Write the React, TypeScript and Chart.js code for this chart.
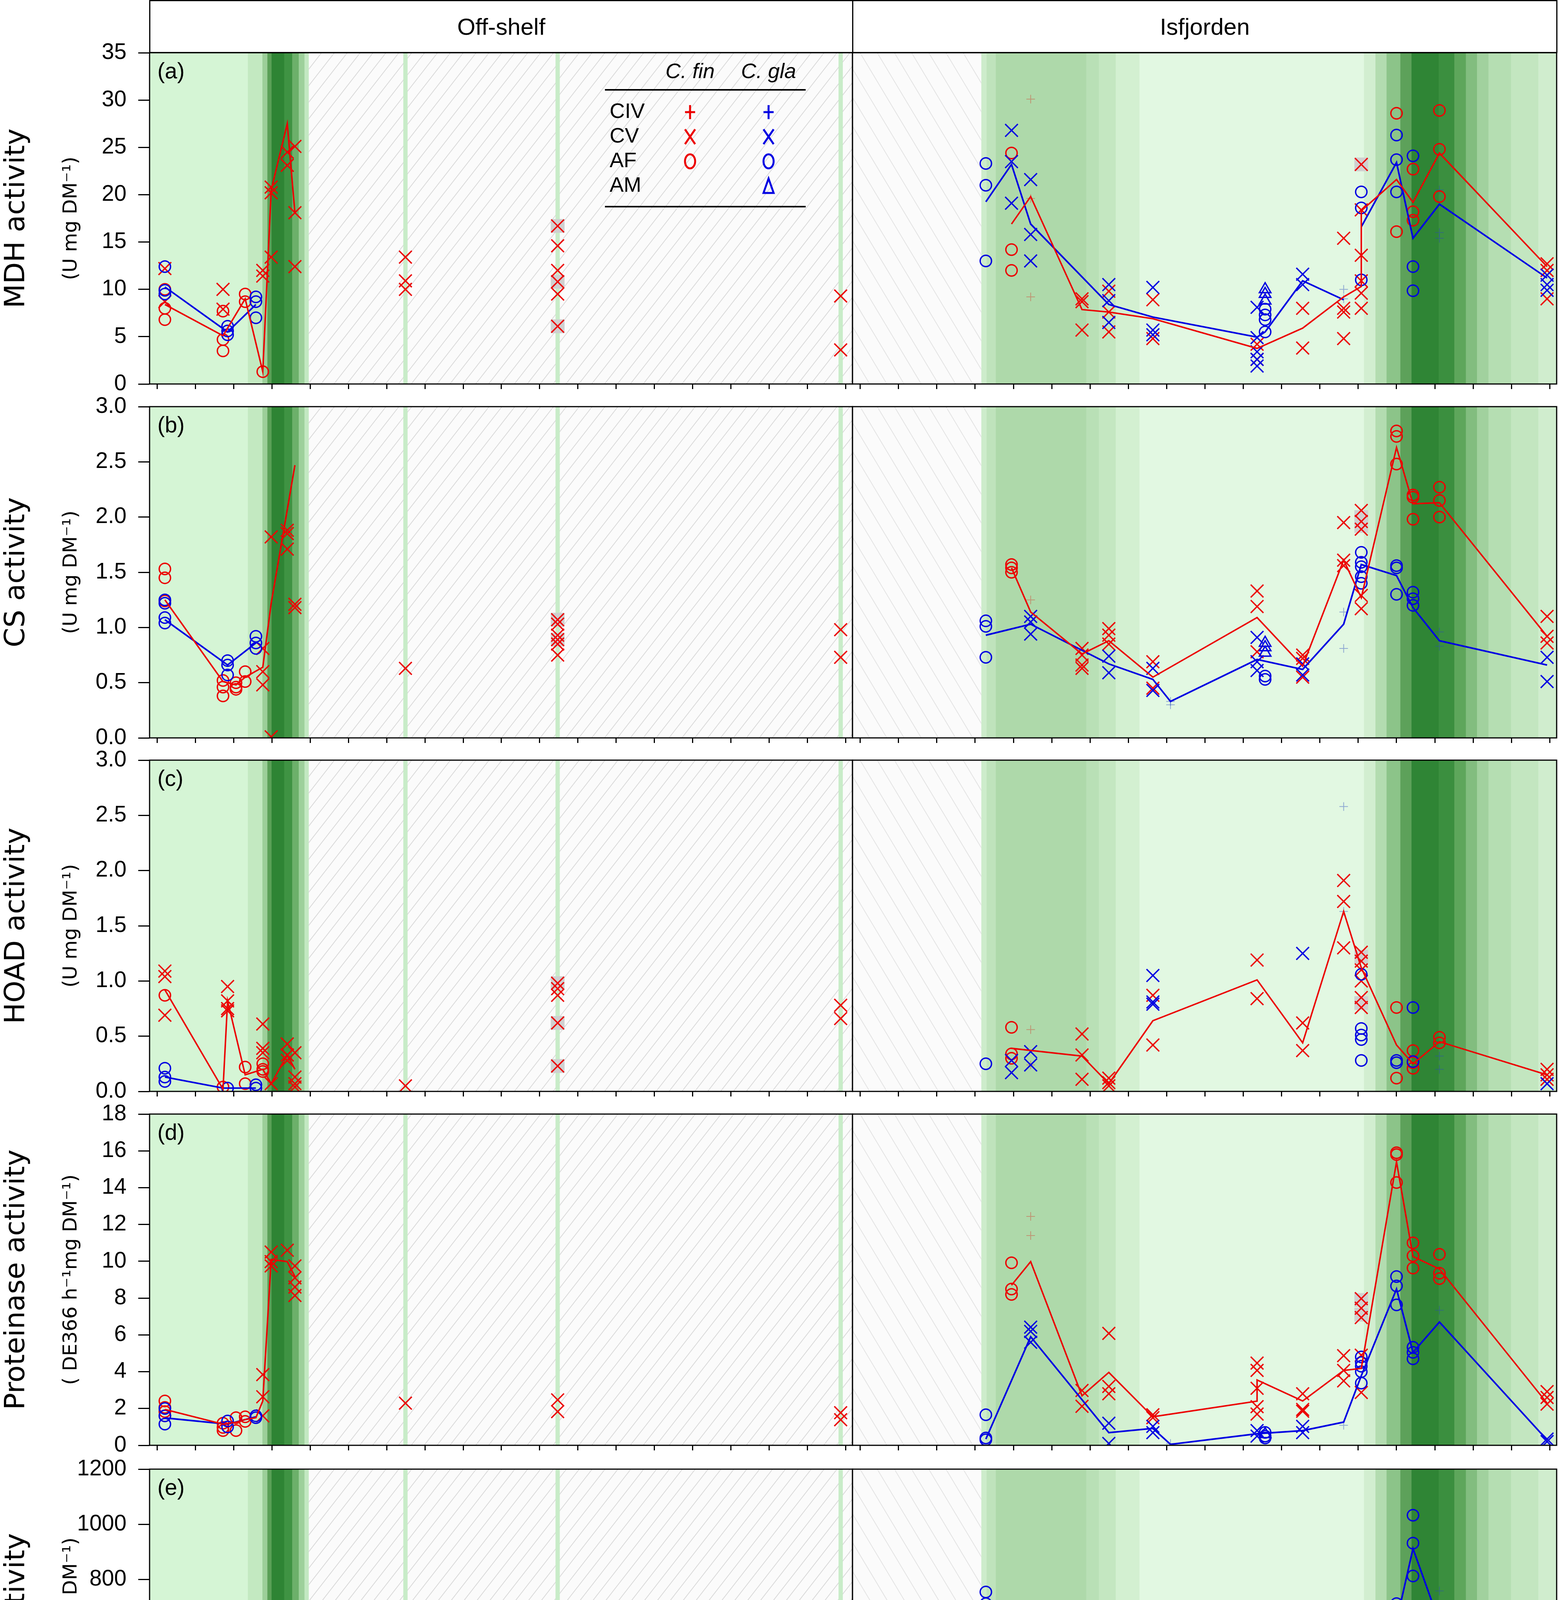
import { useEffect, useRef } from 'react'
import { Chart, registerables } from 'chart.js'

Chart.register(...registerables)

type Pt = [number, number | null]

// x is in months after 1 March of the first sampling year
const MONTHS = ['M', 'A', 'M', 'J', 'J', 'A', 'S', 'O', 'N', 'D', 'J', 'F', 'M', 'A', 'M', 'J', 'J', 'A']
const X_MIN = -0.2
const X_MAX = 18.18
const X_TICKS = Array.from({ length: MONTHS.length * 2 + 1 }, (_, i) => i / 2)

// off-shelf sampling dates
const O1 = 0.2, O2 = 1.72, O2b = 1.84, O2c = 2.06, O3 = 2.3, O3b = 2.58, O4 = 2.76
const O5 = 2.98, O6 = 3.4, O7 = 3.6, O8 = 6.49, O9 = 10.47, O10 = 17.87
// Isfjorden sampling dates
const I1 = 3.28, I2 = 3.95, I3 = 4.45, I4 = 5.79, I5 = 6.49, I6 = 7.64, I6b = 8.1
const I7 = 10.36, I7b = 10.57, I8 = 11.55, I9 = 12.62, I10 = 13.08, I11 = 14.0
const I12 = 14.43, I13 = 15.12, I14 = 17.93

// background: [from, to, colour]
const OFF_BANDS: [number, number, string][] = [
  [X_MIN, 2.37, '#d5f5d5'], [2.37, 2.75, '#c3e9c1'], [2.75, 2.88, '#9ccf99'],
  [2.88, 2.99, '#5aa057'], [2.99, 3.32, '#2e8434'], [3.32, 3.53, '#3f9343'],
  [3.53, 3.7, '#6cb06a'], [3.7, 3.85, '#9dd09b'], [3.85, 3.96, '#c3e8c2'],
]
const OFF_HATCH = [3.96, X_MAX]
const OFF_SAMPLE_LINES = [O8, O9, O10]
const ISF_BANDS: [number, number, string][] = [
  [3.16, 3.3, '#cdeccb'], [3.3, 3.54, '#bfe3bc'], [3.54, 5.9, '#aed9aa'],
  [5.9, 6.23, '#b9e0b6'], [6.23, 6.67, '#c4e7c1'], [6.67, 7.29, '#d3f0d1'],
  [7.29, 13.15, '#e2f8e2'], [13.15, 13.45, '#d2eed0'], [13.45, 13.74, '#b3dcb0'],
  [13.74, 14.1, '#8cc489'], [14.1, 14.39, '#5da15a'], [14.39, 15.1, '#2f8535'],
  [15.1, 15.51, '#3b8f3f'], [15.51, 15.81, '#5ea65b'], [15.81, 16.1, '#82bd7f'],
  [16.1, 16.4, '#a1d19e'], [16.4, 16.99, '#b5deb2'], [16.99, 17.7, '#c3e6c0'],
  [17.7, X_MAX, '#d0edce'],
]
const ISF_HATCH = [X_MIN, 3.16]

// (a) MDH
const mdhOffFinCV: Pt[] = [[O1, 12.2], [O1, 8.7], [O2, 10.0], [O2, 7.9], [O4, 12.0], [O4, 11.4], [O5, 20.8], [O5, 20.2], [O5, 13.4], [O6, 24.5], [O6, 23.1], [O7, 25.1], [O7, 18.1], [O7, 12.4], [O8, 13.4], [O8, 10.9], [O8, 10.0], [O9, 16.7], [O9, 14.6], [O9, 12.0], [O9, 10.8], [O9, 9.5], [O9, 6.1], [O10, 9.3], [O10, 3.6]]
const mdhOffFinAF: Pt[] = [[O1, 10.0], [O1, 8.0], [O1, 6.8], [O2, 7.7], [O2, 4.7], [O2, 3.5], [O3, 9.5], [O3, 8.7], [O4, 1.3]]
const mdhOffGlaAF: Pt[] = [[O1, 12.4], [O1, 9.9], [O1, 9.5], [O2b, 6.1], [O2b, 5.6], [O2b, 5.2], [O3b, 9.2], [O3b, 8.7], [O3b, 7.0]]
const mdhOffFinMean: Pt[] = [[O1, 8.4], [O2, 5.1], [O3, 9.0], [O4, 1.3], [O5, 20.5], [O6, 27.5], [O7, 18.1]]
const mdhOffGlaMean: Pt[] = [[O1, 10.25], [O2b, 5.5], [O3b, 8.4]]
const mdhOffMarked: Pt[] = [[O9, 16.7], [O9, 10.8], [O9, 6.1]]
const mdhIsfFinCIV: Pt[] = [[I3, 30.1], [I3, 19.6], [I3, 9.2]]
const mdhIsfFinCV: Pt[] = [[I4, 9.0], [I4, 8.7], [I4, 5.7], [I5, 9.8], [I5, 7.6], [I5, 5.5], [I6, 8.9], [I6, 4.8], [I7, 4.2], [I7, 2.6], [I8, 8.0], [I8, 3.8], [I9, 15.4], [I9, 8.0], [I9, 7.6], [I9, 4.8], [I10, 23.2], [I10, 18.4], [I10, 13.6], [I10, 10.9], [I10, 9.6], [I10, 8.0], [I14, 12.7], [I14, 12.0], [I14, 9.0]]
const mdhIsfFinAF: Pt[] = [[I2, 24.4], [I2, 14.2], [I2, 12.0], [I11, 28.6], [I11, 16.1], [I12, 22.7], [I12, 18.2], [I12, 17.3], [I13, 28.9], [I13, 24.8], [I13, 19.8]]
const mdhIsfGlaCIV: Pt[] = [[I9, 10.0], [I9, 9.0], [I13, 20.5], [I13, 16.0], [I13, 15.4]]
const mdhIsfGlaCV: Pt[] = [[I2, 26.8], [I2, 23.5], [I2, 19.1], [I3, 21.6], [I3, 15.8], [I3, 13.0], [I5, 10.5], [I5, 8.8], [I5, 6.5], [I6, 10.2], [I6, 5.7], [I6, 5.2], [I7, 8.1], [I7, 4.9], [I7, 3.4], [I7, 2.6], [I7, 1.9], [I8, 11.6], [I8, 10.5], [I14, 11.5], [I14, 10.5], [I14, 9.9]]
const mdhIsfGlaAF: Pt[] = [[I1, 23.3], [I1, 21.0], [I1, 13.0], [I7b, 7.9], [I7b, 7.3], [I7b, 6.8], [I7b, 5.5], [I10, 20.3], [I10, 18.6], [I10, 11.0], [I11, 26.3], [I11, 23.7], [I11, 20.3], [I12, 24.1], [I12, 12.4], [I12, 9.85]]
const mdhIsfGlaAM: Pt[] = [[I7b, 10.0], [I7b, 9.5], [I7b, 8.8]]
const mdhIsfFinMean: Pt[] = [[I2, 16.9], [I3, 19.8], [I4, 7.86], [I5, 7.6], [I6, 6.9], [I7, 3.76], [I8, 5.9], [I9, 9.2], [I10, 10.3], [I10, 18.3], [I11, 21.6], [I12, 19.2], [I13, 24.4], [I14, 12.4]]
const mdhIsfGlaMean: Pt[] = [[I1, 19.25], [I2, 23.2], [I3, 16.9], [I5, 8.4], [I6, 7.07], [I7, 4.95], [I7b, 5.5], [I8, 10.9], [I9, 8.9], [I9, null], [I10, 16.6], [I11, 23.4], [I12, 15.4], [I13, 19.0], [I14, 11.2]]
const mdhIsfMarked: Pt[] = [[I10, 23.2]]

// (b) CS
const csOffFinCV: Pt[] = [[O4, 0.81], [O4, 0.6], [O4, 0.48], [O5, 1.82], [O5, 0.01], [O6, 1.88], [O6, 1.85], [O6, 1.71], [O7, 1.21], [O7, 1.18], [O8, 0.63], [O9, 1.07], [O9, 1.03], [O9, 0.93], [O9, 0.89], [O9, 0.85], [O9, 0.75], [O10, 0.98], [O10, 0.73]]
const csOffFinAF: Pt[] = [[O1, 1.53], [O1, 1.45], [O1, 1.24], [O2, 0.52], [O2, 0.46], [O2, 0.38], [O2c, 0.5], [O2c, 0.46], [O2c, 0.44], [O3, 0.6], [O3, 0.51]]
const csOffGlaAF: Pt[] = [[O1, 1.25], [O1, 1.22], [O1, 1.09], [O1, 1.04], [O2b, 0.7], [O2b, 0.66], [O2b, 0.57], [O3b, 0.92], [O3b, 0.86], [O3b, 0.81]]
const csOffFinMean: Pt[] = [[O1, 1.25], [O2, 0.51], [O2c, 0.48], [O3, 0.55], [O4, 0.64], [O5, 1.22], [O7, 2.47]]
const csOffGlaMean: Pt[] = [[O1, 1.07], [O2b, 0.66], [O3b, 0.86]]
const csOffMarked: Pt[] = [[O9, 1.07], [O9, 0.89]]
const csIsfFinCIV: Pt[] = [[I3, 1.25]]
const csIsfFinCV: Pt[] = [[I4, 0.81], [I4, 0.75], [I4, 0.66], [I4, 0.63], [I5, 0.99], [I5, 0.93], [I5, 0.85], [I6, 0.69], [I6, 0.45], [I7, 1.33], [I7, 1.19], [I7, 0.78], [I8, 0.75], [I8, 0.72], [I8, 0.55], [I9, 1.95], [I9, 1.61], [I9, 1.56], [I10, 2.06], [I10, 1.96], [I10, 1.89], [I10, 1.29], [I10, 1.17], [I14, 1.1], [I14, 0.92], [I14, 0.86]]
const csIsfFinAF: Pt[] = [[I2, 1.57], [I2, 1.54], [I2, 1.5], [I11, 2.78], [I11, 2.73], [I11, 2.48], [I12, 2.2], [I12, 2.18], [I12, 1.98], [I13, 2.27], [I13, 2.15], [I13, 2.0]]
const csIsfGlaCIV: Pt[] = [[I6b, 0.33], [I6b, 0.3], [I9, 1.14], [I9, 0.81], [I13, 0.96], [I13, 0.83]]
const csIsfGlaCV: Pt[] = [[I3, 1.1], [I3, 1.05], [I3, 0.94], [I5, 0.74], [I5, 0.59], [I6, 0.63], [I6, 0.43], [I7, 0.91], [I7, 0.69], [I7, 0.61], [I8, 0.67], [I8, 0.57], [I14, 0.73], [I14, 0.51]]
const csIsfGlaAF: Pt[] = [[I1, 1.06], [I1, 1.01], [I1, 0.73], [I7b, 0.56], [I7b, 0.53], [I10, 1.68], [I10, 1.59], [I10, 1.55], [I10, 1.46], [I10, 1.4], [I11, 1.56], [I11, 1.54], [I11, 1.3], [I12, 1.32], [I12, 1.26], [I12, 1.2]]
const csIsfGlaAM: Pt[] = [[I7b, 0.86], [I7b, 0.82], [I7b, 0.77]]
const csIsfFinMean: Pt[] = [[I2, 1.54], [I3, 1.14], [I4, 0.76], [I5, 0.88], [I6, 0.55], [I7, 1.09], [I8, 0.65], [I9, 1.61], [I10, 1.27], [I11, 2.63], [I12, 2.12], [I13, 2.13], [I14, 0.92]]
const csIsfGlaMean: Pt[] = [[I1, 0.93], [I3, 1.03], [I5, 0.67], [I6, 0.53], [I6b, 0.33], [I7, 0.71], [I8, 0.62], [I9, 1.03], [I10, 1.57], [I11, 1.47], [I12, 1.18], [I13, 0.88], [I14, 0.66]]
const csIsfMarked: Pt[] = [[I10, 2.0], [I10, 1.92]]

// (c) HOAD
const hoadOffFinCV: Pt[] = [[O1, 1.09], [O1, 1.04], [O1, 0.69], [O2b, 0.95], [O2b, 0.82], [O2b, 0.75], [O2b, 0.73], [O4, 0.61], [O4, 0.39], [O4, 0.35], [O5, 0.07], [O6, 0.43], [O6, 0.33], [O6, 0.28], [O7, 0.35], [O7, 0.13], [O7, 0.07], [O7, 0.04], [O8, 0.05], [O9, 0.98], [O9, 0.93], [O9, 0.87], [O9, 0.62], [O9, 0.23], [O10, 0.78], [O10, 0.66]]
const hoadOffFinAF: Pt[] = [[O1, 0.87], [O2, 0.04], [O3, 0.22], [O3, 0.07], [O4, 0.25], [O4, 0.2], [O4, 0.18]]
const hoadOffGlaAF: Pt[] = [[O1, 0.21], [O1, 0.13], [O1, 0.09], [O2b, 0.03], [O3b, 0.06], [O3b, 0.03]]
const hoadOffFinMean: Pt[] = [[O1, 0.92], [O2, 0.02], [O2b, 0.82], [O3, 0.15], [O4, 0.2], [O5, 0.07], [O6, 0.33], [O7, 0.2]]
const hoadOffGlaMean: Pt[] = [[O1, 0.13], [O2, 0.03], [O3b, 0.03]]
const hoadOffMarked: Pt[] = [[O9, 0.98], [O9, 0.62], [O9, 0.23]]
const hoadIsfFinCIV: Pt[] = [[I3, 0.56], [I3, 0.24]]
const hoadIsfFinCV: Pt[] = [[I4, 0.52], [I4, 0.33], [I4, 0.11], [I5, 0.12], [I5, 0.08], [I5, 0.05], [I6, 0.87], [I6, 0.42], [I7, 1.19], [I7, 0.84], [I8, 0.62], [I8, 0.37], [I9, 1.91], [I9, 1.72], [I9, 1.3], [I10, 1.26], [I10, 1.18], [I10, 1.1], [I10, 1.0], [I10, 0.85], [I10, 0.76], [I14, 0.2], [I14, 0.15], [I14, 0.11]]
const hoadIsfFinAF: Pt[] = [[I2, 0.58], [I2, 0.34], [I2, 0.3], [I11, 0.76], [I11, 0.12], [I12, 0.37], [I12, 0.26], [I12, 0.21], [I13, 0.49], [I13, 0.44]]
const hoadIsfGlaCIV: Pt[] = [[I9, 2.58], [I9, 1.63], [I13, 0.32], [I13, 0.2]]
const hoadIsfGlaCV: Pt[] = [[I2, 0.28], [I2, 0.17], [I3, 0.36], [I3, 0.24], [I6, 1.05], [I6, 0.81], [I6, 0.79], [I8, 1.25], [I14, 0.07]]
const hoadIsfGlaAF: Pt[] = [[I1, 0.25], [I10, 1.06], [I10, 0.57], [I10, 0.51], [I10, 0.47], [I10, 0.28], [I11, 0.28], [I11, 0.26], [I12, 0.76], [I12, 0.27]]
const hoadIsfFinMean: Pt[] = [[I2, 0.39], [I4, 0.32], [I5, 0.07], [I6, 0.64], [I7, 1.01], [I8, 0.44], [I9, 1.63], [I10, 1.12], [I11, 0.42], [I12, 0.25], [I13, 0.45], [I14, 0.15]]
const hoadIsfMarked: Pt[] = [[I10, 1.22], [I10, 0.8]]

// (d) proteinase
const protOffFinCV: Pt[] = [[O4, 3.84], [O4, 2.64], [O4, 1.6], [O5, 10.5], [O5, 9.98], [O5, 9.75], [O6, 10.6], [O7, 9.75], [O7, 9.1], [O7, 8.6], [O7, 8.14], [O8, 2.29], [O9, 2.47], [O9, 1.83], [O10, 1.77], [O10, 1.39]]
const protOffFinAF: Pt[] = [[O1, 2.41], [O1, 2.06], [O1, 1.83], [O1, 1.6], [O2, 1.2], [O2, 0.97], [O2, 0.8], [O2c, 1.5], [O2c, 0.8], [O3, 1.55], [O3, 1.3]]
const protOffGlaAF: Pt[] = [[O1, 2.0], [O1, 1.6], [O1, 1.15], [O2b, 1.32], [O2b, 1.0], [O3b, 1.6], [O3b, 1.5]]
const protOffFinMean: Pt[] = [[O1, 1.95], [O2, 1.15], [O2c, 1.25], [O3, 1.4], [O3b, 1.5], [O4, 2.41], [O5, 10.1], [O6, 9.98], [O7, 9.17]]
const protOffGlaMean: Pt[] = [[O1, 1.49], [O2b, 1.15], [O3b, 1.55]]
const protIsfFinCIV: Pt[] = [[I3, 12.44], [I3, 11.4]]
const protIsfFinCV: Pt[] = [[I4, 2.98], [I4, 2.12], [I5, 6.08], [I5, 3.2], [I5, 2.8], [I6, 1.66], [I6, 1.5], [I7, 4.47], [I7, 4.07], [I7, 3.1], [I7, 2.1], [I7, 1.7], [I8, 2.8], [I8, 1.95], [I8, 1.85], [I9, 4.87], [I9, 4.07], [I9, 3.5], [I10, 7.97], [I10, 7.45], [I10, 6.94], [I10, 4.9], [I10, 2.87], [I14, 2.92], [I14, 2.6], [I14, 2.24]]
const protIsfFinAF: Pt[] = [[I2, 9.92], [I2, 8.49], [I2, 8.2], [I11, 15.9], [I11, 15.8], [I11, 14.28], [I12, 11.0], [I12, 10.3], [I12, 9.63], [I13, 10.38], [I13, 9.35], [I13, 9.06]]
const protIsfGlaCIV: Pt[] = [[I6b, 0.1], [I9, 1.09], [I13, 7.34], [I13, 6.5]]
const protIsfGlaCV: Pt[] = [[I3, 6.42], [I3, 6.19], [I3, 5.6], [I5, 1.2], [I5, 0.1], [I6, 1.03], [I6, 0.69], [I7, 0.8], [I7, 0.5], [I8, 1.03], [I8, 0.69], [I14, 0.34], [I14, 0.2]]
const protIsfGlaAF: Pt[] = [[I1, 1.66], [I1, 0.4], [I1, 0.3], [I7b, 0.7], [I7b, 0.5], [I7b, 0.4], [I10, 4.8], [I10, 4.5], [I10, 4.3], [I10, 4.0], [I10, 3.38], [I11, 9.17], [I11, 8.66], [I11, 7.63], [I12, 5.33], [I12, 5.05], [I12, 4.7]]
const protIsfGlaAM: Pt[] = [[I7b, 0.6]]
const protIsfFinMean: Pt[] = [[I2, 8.7], [I3, 9.98], [I4, 2.69], [I5, 3.96], [I6, 1.55], [I7, 2.4], [I7, 3.55], [I8, 2.41], [I9, 4.07], [I10, 4.18], [I11, 15.4], [I12, 10.26], [I13, 9.58], [I14, 2.29]]
const protIsfGlaMean: Pt[] = [[I1, 0.34], [I3, 5.9], [I5, 0.69], [I6, 0.92], [I6b, 0.05], [I7, 0.63], [I8, 0.8], [I9, 1.26], [I10, 3.78], [I11, 8.49], [I12, 5.05], [I13, 6.7], [I14, 0.29]]
const protIsfMarked: Pt[] = [[I10, 7.9], [I10, 7.1]]

// (e) lipase
const lipOffFinCV: Pt[] = [[O4, 345], [O4, 111], [O4, 88], [O5, 138], [O5, 127], [O6, 326], [O6, 311], [O6, 295], [O7, 192], [O7, 157], [O7, 150], [O8, 192], [O9, 58], [O9, 45], [O9, 35], [O9, 19], [O10, 119], [O10, 93]]
const lipOffFinAF: Pt[] = [[O1, 207], [O1, 196], [O1, 184], [O1, 50], [O2, 249], [O2, 180], [O2c, 345], [O2c, 180], [O2c, 253], [O3, 280], [O3, 257]]
const lipOffGlaAF: Pt[] = [[O1, 161], [O1, 130], [O1, 119], [O2b, 111], [O2b, 100], [O3b, 153], [O3b, 123], [O3b, 104]]
const lipOffFinMean: Pt[] = [[O1, 53], [O1, 189], [O2, 203], [O2c, 260], [O3, 257], [O5, 134], [O6, 307], [O7, 172]]
const lipOffGlaMean: Pt[] = [[O1, 130], [O2b, 111], [O3b, 123]]
const lipOffMarked: Pt[] = [[O9, 30]]
const lipIsfFinCIV: Pt[] = [[I3, 265], [I3, 200], [I3, 161]]
const lipIsfFinCV: Pt[] = [[I4, 69], [I4, 54], [I5, 230], [I5, 203], [I5, 172], [I6, 35], [I6, 15], [I7, 134], [I7, 110], [I7, 50], [I7, 20], [I8, 27], [I9, 138], [I9, 119], [I10, 115], [I10, 96], [I10, 80], [I14, 69]]
const lipIsfFinAF: Pt[] = [[I2, 272], [I2, 249], [I2, 240], [I11, 268], [I11, 196], [I11, 185], [I12, 303], [I12, 290], [I12, 245], [I13, 207], [I13, 190], [I13, 180]]
const lipIsfGlaCIV: Pt[] = [[I6b, 65], [I9, 31], [I13, 759], [I13, 583]]
const lipIsfGlaCV: Pt[] = [[I3, 663], [I3, 648], [I3, 587], [I5, 272], [I5, 249], [I6, 226], [I6, 207], [I6, 157], [I6, 134], [I7, 96], [I7, 69], [I8, 61], [I14, 69], [I14, 55], [I14, 40]]
const lipIsfGlaAF: Pt[] = [[I1, 755], [I1, 713], [I1, 556], [I7b, 88], [I7b, 75], [I7b, 55], [I10, 219], [I10, 210], [I10, 180], [I10, 160], [I10, 140], [I11, 713], [I11, 675], [I11, 552], [I12, 1033], [I12, 932], [I12, 813]]
const lipIsfFinMean: Pt[] = [[I2, 249], [I3, 211], [I4, 65], [I5, 200], [I6, 35], [I7, 84], [I7, 35], [I8, 27], [I9, 127], [I10, 111], [I11, 211], [I12, 272], [I13, 188], [I14, 65]]
const lipIsfGlaMean: Pt[] = [[I1, 675], [I3, 633], [I5, 238], [I6, 196], [I6b, 61], [I7, 69], [I7b, 75], [I8, 57], [I9, 31], [I10, 203], [I11, 648], [I12, 912], [I13, 644], [I14, 57]]

type Group = {
  finCIV?: Pt[]; finCV?: Pt[]; finAF?: Pt[]
  glaCIV?: Pt[]; glaCV?: Pt[]; glaAF?: Pt[]; glaAM?: Pt[]
  finMean?: Pt[]; glaMean?: Pt[]; marked?: Pt[]
}

const ROWS = [
  {
    letter: '(a)', title: 'MDH activity', unit: '(U mg DM⁻¹)', max: 35, step: 5, dec: 0,
    off: { finCV: mdhOffFinCV, finAF: mdhOffFinAF, glaAF: mdhOffGlaAF, finMean: mdhOffFinMean, glaMean: mdhOffGlaMean, marked: mdhOffMarked },
    isf: { finCIV: mdhIsfFinCIV, finCV: mdhIsfFinCV, finAF: mdhIsfFinAF, glaCIV: mdhIsfGlaCIV, glaCV: mdhIsfGlaCV, glaAF: mdhIsfGlaAF, glaAM: mdhIsfGlaAM, finMean: mdhIsfFinMean, glaMean: mdhIsfGlaMean, marked: mdhIsfMarked },
  },
  {
    letter: '(b)', title: 'CS activity', unit: '(U mg DM⁻¹)', max: 3, step: 0.5, dec: 1,
    off: { finCV: csOffFinCV, finAF: csOffFinAF, glaAF: csOffGlaAF, finMean: csOffFinMean, glaMean: csOffGlaMean, marked: csOffMarked },
    isf: { finCIV: csIsfFinCIV, finCV: csIsfFinCV, finAF: csIsfFinAF, glaCIV: csIsfGlaCIV, glaCV: csIsfGlaCV, glaAF: csIsfGlaAF, glaAM: csIsfGlaAM, finMean: csIsfFinMean, glaMean: csIsfGlaMean, marked: csIsfMarked },
  },
  {
    letter: '(c)', title: 'HOAD activity', unit: '(U mg DM⁻¹)', max: 3, step: 0.5, dec: 1,
    off: { finCV: hoadOffFinCV, finAF: hoadOffFinAF, glaAF: hoadOffGlaAF, finMean: hoadOffFinMean, glaMean: hoadOffGlaMean, marked: hoadOffMarked },
    isf: { finCIV: hoadIsfFinCIV, finCV: hoadIsfFinCV, finAF: hoadIsfFinAF, glaCIV: hoadIsfGlaCIV, glaCV: hoadIsfGlaCV, glaAF: hoadIsfGlaAF, finMean: hoadIsfFinMean, marked: hoadIsfMarked },
  },
  {
    letter: '(d)', title: 'Proteinase activity', unit: '( DE366 h⁻¹mg DM⁻¹)', max: 18, step: 2, dec: 0,
    off: { finCV: protOffFinCV, finAF: protOffFinAF, glaAF: protOffGlaAF, finMean: protOffFinMean, glaMean: protOffGlaMean },
    isf: { finCIV: protIsfFinCIV, finCV: protIsfFinCV, finAF: protIsfFinAF, glaCIV: protIsfGlaCIV, glaCV: protIsfGlaCV, glaAF: protIsfGlaAF, glaAM: protIsfGlaAM, finMean: protIsfFinMean, glaMean: protIsfGlaMean, marked: protIsfMarked },
  },
  {
    letter: '(e)', title: 'Lipase activity', unit: '(nmol h⁻¹ mg DM⁻¹)', max: 1200, step: 200, dec: 0,
    off: { finCV: lipOffFinCV, finAF: lipOffFinAF, glaAF: lipOffGlaAF, finMean: lipOffFinMean, glaMean: lipOffGlaMean, marked: lipOffMarked },
    isf: { finCIV: lipIsfFinCIV, finCV: lipIsfFinCV, finAF: lipIsfFinAF, glaCIV: lipIsfGlaCIV, glaCV: lipIsfGlaCV, glaAF: lipIsfGlaAF, finMean: lipIsfFinMean, glaMean: lipIsfGlaMean },
  },
]

const RED = 'rgb(236,0,0)'
const BLUE = 'rgb(0,0,226)'
const RED_FAINT = 'rgba(205,80,60,0.5)'
const BLUE_FAINT = 'rgba(40,70,190,0.45)'
const NONE = 'rgba(0,0,0,0)'
const SANS = '"Liberation Sans", Arial, sans-serif'

const PLOT_TOPS = [135, 1041, 1946, 2852, 3761]
const PLOT_H = 848
const PAD_TOP = 40
const BOTTOM = 40
const BOTTOM_LAST = 80
const SPLIT = 2183

const xy = (pts: Pt[] = []) => pts.map(([x, y]) => ({ x, y }))

function buildDatasets(g: Group) {
  const pts = (data: Pt[] | undefined, style: string, r: number, color: string, w: number, fill = NONE) => ({
    data: xy(data), showLine: false, pointStyle: style, pointRadius: r,
    pointBorderColor: color, pointBackgroundColor: fill, pointBorderWidth: w,
    borderColor: color, backgroundColor: fill,
  })
  const mean = (data: Pt[] | undefined, color: string, w: number) => ({
    data: xy(data), showLine: true, borderColor: color, borderWidth: w,
    pointRadius: 0, spanGaps: false, fill: false,
  })
  return [
    mean(g.finMean, RED, 3.8),
    mean(g.glaMean, BLUE, 4.2),
    pts(g.glaAM, 'triangle', 17, BLUE, 3.5),
    pts(g.glaAF, 'circle', 14.5, BLUE, 3.5),
    pts(g.glaCV, 'crossRot', 23, BLUE, 3.5),
    pts(g.finAF, 'circle', 14.5, RED, 3.5),
    pts(g.finCV, 'crossRot', 23, RED, 3.5),
    pts(g.glaCIV, 'cross', 11, BLUE_FAINT, 2),
    pts(g.finCIV, 'cross', 11, RED_FAINT, 2),
    pts(g.marked, 'rect', 25, NONE, 0, '#d0d0d0'),
  ]
}

// keep the plot area exactly where the layout says
function noPadding(s: any) {
  s.paddingTop = 0
  s.paddingBottom = 0
  s.paddingLeft = 0
  s.paddingRight = 0
}

function drawHatch(ctx: any, ca: any, xa: number, xb: number, dir: number, gap: number, slope: number, color: string) {
  ctx.save()
  ctx.beginPath()
  ctx.rect(xa, ca.top, xb - xa, ca.height)
  ctx.clip()
  ctx.fillStyle = '#fbfbfb'
  ctx.fillRect(xa, ca.top, xb - xa, ca.height)
  ctx.strokeStyle = color
  ctx.lineWidth = 2
  const run = ca.height * slope
  ctx.beginPath()
  for (let s = xa - run - gap; s < xb + run + gap; s += gap) {
    if (dir > 0) { ctx.moveTo(s, ca.bottom); ctx.lineTo(s + run, ca.top) }
    else { ctx.moveTo(s, ca.top); ctx.lineTo(s + run, ca.bottom) }
  }
  ctx.stroke()
  ctx.restore()
}

function glyph(ctx: any, kind: string, x: number, y: number, color: string) {
  ctx.save()
  ctx.strokeStyle = color
  ctx.lineWidth = 5
  ctx.beginPath()
  if (kind === '+') { ctx.moveTo(x - 13, y); ctx.lineTo(x + 13, y); ctx.moveTo(x, y - 18); ctx.lineTo(x, y + 18) }
  if (kind === 'x') { ctx.moveTo(x - 13, y - 19); ctx.lineTo(x + 13, y + 19); ctx.moveTo(x + 13, y - 19); ctx.lineTo(x - 13, y + 19) }
  if (kind === 'o') ctx.ellipse(x, y, 13, 18, 0, 0, Math.PI * 2)
  if (kind === '^') { ctx.moveTo(x, y - 19); ctx.lineTo(x + 13, y + 18); ctx.lineTo(x - 13, y + 18); ctx.closePath() }
  ctx.stroke()
  ctx.restore()
}

function drawLegend(ctx: any, ca: any) {
  const L = ca.left
  const T = ca.top
  ctx.save()
  ctx.fillStyle = '#000'
  ctx.textBaseline = 'middle'
  ctx.textAlign = 'center'
  ctx.font = `italic 54px ${SANS}`
  ctx.fillText('C. fin', L + 1384, T + 50)
  ctx.fillText('C. gla', L + 1585, T + 50)
  ctx.strokeStyle = '#000'
  ctx.lineWidth = 4
  ctx.beginPath()
  ctx.moveTo(L + 1166, T + 95); ctx.lineTo(L + 1680, T + 95)
  ctx.moveTo(L + 1166, T + 394); ctx.lineTo(L + 1680, T + 394)
  ctx.stroke()
  ctx.textAlign = 'left'
  ctx.font = `54px ${SANS}`
  const rows: [string, string | null, string][] = [['CIV', '+', '+'], ['CV', 'x', 'x'], ['AF', 'o', 'o'], ['AM', null, '^']]
  rows.forEach(([label, fin, gla], i) => {
    const y = T + 152 + i * 63
    ctx.fillText(label, L + 1178, y)
    if (fin) glyph(ctx, fin, L + 1384, y, RED)
    glyph(ctx, gla, L + 1585, y, BLUE)
  })
  ctx.restore()
}

function Panel({ row, side }: { row: number; side: 'off' | 'isf' }) {
  const canvasRef = useRef<HTMLCanvasElement>(null)
  const last = row === ROWS.length - 1
  const isOff = side === 'off'
  const left = isOff ? 0 : SPLIT - 7
  const width = isOff ? SPLIT + 7 : 3992 - left
  const top = PLOT_TOPS[row] - PAD_TOP
  const height = PAD_TOP + PLOT_H + (last ? BOTTOM_LAST : BOTTOM)

  useEffect(() => {
    if (!canvasRef.current) return
    const r = ROWS[row]
    const group: Group = isOff ? r.off : r.isf
    const tickFont = { family: SANS, size: 57 }

    const decor = {
      id: 'decor',
      beforeDatasetsDraw(chart: any) {
        const { ctx, chartArea: ca, scales } = chart
        const x = scales.x
        ctx.save()
        ctx.beginPath()
        ctx.rect(ca.left, ca.top, ca.width, ca.height)
        ctx.clip()
        for (const [a, b, c] of isOff ? OFF_BANDS : ISF_BANDS) {
          const xa = x.getPixelForValue(a)
          const xb = x.getPixelForValue(b)
          ctx.fillStyle = c
          ctx.fillRect(xa, ca.top, xb - xa + 0.6, ca.height)
        }
        const [ha, hb] = isOff ? OFF_HATCH : ISF_HATCH
        if (isOff) drawHatch(ctx, ca, x.getPixelForValue(ha), x.getPixelForValue(hb), 1, 33, 0.78, '#d9d9d9')
        else drawHatch(ctx, ca, x.getPixelForValue(ha), x.getPixelForValue(hb), -1, 44, 0.6, '#e3e3e3')
        if (isOff) {
          ctx.strokeStyle = '#c8ecc8'
          ctx.lineWidth = 11
          for (const v of OFF_SAMPLE_LINES) {
            const px = x.getPixelForValue(v)
            ctx.beginPath(); ctx.moveTo(px, ca.top); ctx.lineTo(px, ca.bottom); ctx.stroke()
          }
        }
        ctx.restore()
      },
      afterDatasetsDraw(chart: any) {
        const { ctx, chartArea: ca } = chart
        ctx.save()
        ctx.strokeStyle = '#000'
        ctx.lineWidth = 3
        ctx.strokeRect(ca.left, ca.top, ca.width, ca.height)
        if (isOff) {
          ctx.fillStyle = '#000'
          ctx.font = `57px ${SANS}`
          ctx.textBaseline = 'middle'
          ctx.textAlign = 'left'
          ctx.fillText(r.letter, ca.left + 20, ca.top + 50)
          if (row === 0) drawLegend(ctx, ca)
          const cy = (ca.top + ca.bottom) / 2
          ctx.textAlign = 'center'
          ctx.textBaseline = 'alphabetic'
          ctx.save()
          ctx.translate(62, cy)
          ctx.rotate(-Math.PI / 2)
          ctx.font = '72px "DejaVu Sans", Verdana, sans-serif'
          ctx.fillText(r.title, 0, 0)
          ctx.restore()
          ctx.save()
          ctx.translate(196, cy)
          ctx.rotate(-Math.PI / 2)
          ctx.font = '50px "DejaVu Sans", Verdana, sans-serif'
          ctx.fillText(r.unit, 0, 0)
          ctx.restore()
        }
        ctx.restore()
      },
    }

    const chart = new Chart(canvasRef.current, {
      type: 'scatter',
      data: { datasets: buildDatasets(group) as any },
      options: {
        animation: false,
        responsive: false,
        devicePixelRatio: 1,
        events: [],
        layout: {
          autoPadding: false,
          padding: { top: PAD_TOP, bottom: 0, left: isOff ? 0 : 7, right: isOff ? 7 : 6 },
        },
        plugins: { legend: { display: false }, tooltip: { enabled: false } },
        scales: {
          x: {
            type: 'linear',
            min: X_MIN,
            max: X_MAX,
            afterBuildTicks: (s: any) => { s.ticks = X_TICKS.map(v => ({ value: v })) },
            afterFit: (s: any) => { s.height = last ? BOTTOM_LAST : BOTTOM; noPadding(s) },
            border: { display: false },
            grid: {
              drawOnChartArea: false,
              tickLength: 13,
              tickWidth: 3,
              tickColor: (c: any) => (Number.isInteger(c.tick?.value) ? '#000' : NONE),
            },
            ticks: {
              autoSkip: false,
              maxRotation: 0,
              padding: 6,
              color: '#000',
              font: { family: SANS, size: 62 },
              callback: (v: any) => {
                const n = Number(v)
                if (!last || Number.isInteger(n)) return ''
                return MONTHS[Math.floor(n)] ?? ''
              },
            },
          },
          y: {
            display: isOff,
            min: 0,
            max: r.max,
            afterFit: (s: any) => {
              s.width = isOff ? 383 : 0
              noPadding(s)
            },
            border: { display: false },
            grid: { drawOnChartArea: false, tickLength: 29, tickWidth: 3, tickColor: '#000' },
            ticks: {
              stepSize: r.step,
              padding: 30,
              color: '#000',
              font: tickFont,
              callback: (v: any) => Number(v).toFixed(r.dec),
            },
          },
        },
      },
      plugins: [decor],
    })

    return () => {
      chart.destroy()
    }
  }, [row, side])

  return (
    <canvas
      ref={canvasRef}
      width={width}
      height={height}
      style={{ position: 'absolute', left, top, width, height }}
    />
  )
}

const headerStyle = {
  position: 'absolute' as const,
  top: 0,
  height: 136,
  border: '3px solid #000',
  boxSizing: 'border-box' as const,
  display: 'flex',
  alignItems: 'center',
  justifyContent: 'center',
  font: `60px ${SANS}`,
  background: '#fff',
}

export default function App() {
  return (
    <div style={{ position: 'absolute', left: 0, top: 0, width: 3992, height: 4689, background: '#fff', overflow: 'hidden' }}>
      <div style={{ ...headerStyle, left: 382, width: SPLIT - 382 + 2 }}>Off-shelf</div>
      <div style={{ ...headerStyle, left: SPLIT - 1, width: 3988 - SPLIT + 1 }}>Isfjorden</div>
      {ROWS.map((_, i) => (
        <div key={i}>
          <Panel row={i} side="off" />
          <Panel row={i} side="isf" />
        </div>
      ))}
    </div>
  )
}
